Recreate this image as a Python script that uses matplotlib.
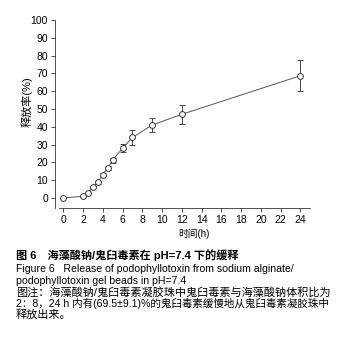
import matplotlib
matplotlib.use("Agg")
import matplotlib.pyplot as plt

plt.rcParams['font.family'] = ['Liberation Sans', 'Noto Sans CJK SC', 'DejaVu Sans']

# release data
time_h = [0, 2, 2.5, 3, 3.5, 4, 4.5, 5, 6, 7, 9, 12, 24]
release = [0, 1, 3, 6, 8.8, 13.2, 17, 21.2, 28, 34, 41, 47, 68.7]
release_err = [0.3, 0.4, 0.5, 0.6, 0.7, 0.8, 1.0, 1.5, 2.4, 4.2, 4, 5.3, 8.8]
x_ticks = list(range(0, 25, 2))
y_ticks = list(range(0, 101, 10))

caption_lines = [
    "图 6　海藻酸钠/鬼臼毒素在 pH=7.4 下的缓释",
    "Figure 6   Release of podophyllotoxin from sodium alginate/",
    "podophyllotoxin gel beads in pH=7.4",
    "图注：海藻酸钠/鬼臼毒素凝胶珠中鬼臼毒素与海藻酸钠体积比为",
    "2：8，24 h 内有(69.5±9.1)%的鬼臼毒素缓慢地从鬼臼毒素凝胶珠中",
    "释放出来。",
]
caption_sizes = [8, 7.6, 7.6, 8, 7.6, 8]

W, H = 341, 351
fig = plt.figure(figsize=(W / 100, H / 100), dpi=100)
ax = fig.add_axes([55 / W, 1 - 207.7 / H, (312 - 55) / W, (207.7 - 20) / H])

ax.errorbar(time_h, release, yerr=release_err, color='#555555', lw=0.7,
            marker='o', markersize=4.2, markerfacecolor='white',
            markeredgecolor='#333333', markeredgewidth=0.7,
            ecolor='#444444', elinewidth=0.7, capsize=2, capthick=0.7)

ax.set_xlim(-0.84, 25.18)
ax.set_ylim(-5.45, 100)
ax.set_xticks(x_ticks)
ax.set_yticks(y_ticks)
ax.spines['top'].set_visible(False)
ax.spines['right'].set_visible(False)
ax.spines['bottom'].set_bounds(-0.43, 24.98)
for s in ('left', 'bottom'):
    ax.spines[s].set_linewidth(0.6)
    ax.spines[s].set_color('#333333')
ax.tick_params(length=3, width=0.6, color='#333333', labelsize=7.5, pad=2)

fig.text(27 / W, 1 - 102 / H, "释放率(%)", rotation=90, ha='center', va='center', fontsize=8)
fig.text(194 / W, 1 - 234 / H, "时间(h)", ha='center', va='center', fontsize=7)

ys = [255, 268.5, 280.5, 292, 303.5, 314.5]
for i, (line, y) in enumerate(zip(caption_lines, ys)):
    fig.text(16 / W, 1 - y / H, line, ha='left', va='center', fontsize=caption_sizes[i],
             fontweight='bold' if i == 0 else 'normal')

fig.savefig("out.png", dpi=100)
